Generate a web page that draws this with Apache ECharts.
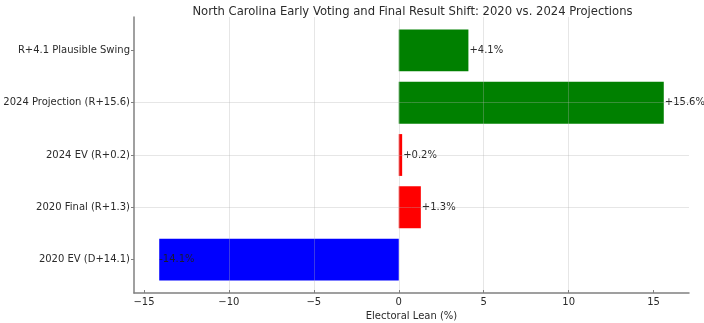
<!DOCTYPE html>
<html>
<head>
<meta charset="utf-8">
<script src="https://cdn.jsdelivr.net/npm/echarts@6/dist/echarts.min.js"></script>
<style>html,body{margin:0;padding:0;background:#fff}#c{width:704px;height:323px}</style>
</head>
<body>
<div id="c"></div>
<script>
const categories = ['2020 EV (D+14.1)', '2020 Final (R+1.3)', '2024 EV (R+0.2)', '2024 Projection (R+15.6)', 'R+4.1 Plausible Swing'];
const values = [-14.1, 1.3, 0.2, 15.6, 4.1];
const labels = ['-14.1%', '+1.3%', '+0.2%', '+15.6%', '+4.1%'];
const barColors = ['#0000ff', '#ff0000', '#ff0000', '#008000', '#008000'];
const xTicks = [-15, -10, -5, 0, 5, 10, 15];
const xMin = -15.585, xMax = 17.085;
const yMin = -0.64, yMax = 4.64;

const font = 'DejaVu Sans';
const txt = '#2b2b2b';
const chart = echarts.init(document.getElementById('c'));
const gridColor = 'rgba(176,176,176,0.32)';
const catIdx = categories.map((_, i) => i);

chart.setOption({
  animation: false,
  title: {
    text: 'North Carolina Early Voting and Final Result Shift: 2020 vs. 2024 Projections',
    left: 407.5, textAlign: 'center', top: 1,
    textStyle: { fontFamily: font, fontSize: 11.6, fontWeight: 'normal', color: txt }
  },
  grid: [
    { left: 134, right: 15, top: 17, bottom: 30, outerBoundsMode: 'none', containLabel: false },
    { left: 134, right: 15, top: 24.3, bottom: 37.3, outerBoundsMode: 'none', containLabel: false }
  ],
  xAxis: [
    {
      gridIndex: 0, type: 'value', min: xMin, max: xMax, z: 5,
      name: 'Electoral Lean (%)', nameLocation: 'middle', nameGap: 17,
      nameTextStyle: { fontFamily: font, fontSize: 10, color: txt },
      axisLine: { show: true, onZero: false, lineStyle: { color: '#808080', width: 1.5 } },
      axisTick: { show: true, inside: true, length: 3, customValues: xTicks, lineStyle: { color: '#808080' } },
      axisLabel: { customValues: xTicks, fontFamily: font, fontSize: 10, color: txt, margin: 4,
        formatter: v => (v < 0 ? '\u2212' + Math.abs(v) : String(v)) },
      splitLine: { show: true, showMinLine: false, showMaxLine: false, lineStyle: { color: gridColor, width: 1 } }
    },
    {
      gridIndex: 1, type: 'value', min: xMin, max: xMax,
      axisLine: { show: false, onZero: false }, axisTick: { show: false }, axisLabel: { show: false }, splitLine: { show: false }
    }
  ],
  yAxis: [
    {
      gridIndex: 0, type: 'value', min: yMin, max: yMax, z: 5,
      axisLine: { show: true, onZero: false, lineStyle: { color: '#808080', width: 1.5 } },
      axisTick: { show: true, inside: false, length: 3, customValues: catIdx, lineStyle: { color: '#808080' } },
      axisLabel: { customValues: catIdx, fontFamily: font, fontSize: 10, color: txt, margin: 4,
        formatter: v => categories[Math.round(v)] },
      splitLine: { show: true, showMinLine: false, showMaxLine: false, lineStyle: { color: gridColor, width: 1 } }
    },
    {
      gridIndex: 1, type: 'category', data: categories,
      axisLine: { show: false, onZero: false }, axisTick: { show: false }, axisLabel: { show: false }, splitLine: { show: false }
    }
  ],
  series: [{
    type: 'bar', xAxisIndex: 1, yAxisIndex: 1, barWidth: '80%',
    data: values.map((v, i) => ({
      value: v,
      itemStyle: { color: barColors[i] },
      label: {
        show: true, formatter: labels[i],
        position: v < 0 ? 'insideLeft' : 'right', distance: v < 0 ? 0 : 1,
        fontFamily: font, fontSize: 10, color: v < 0 ? '#1a1a33' : txt
      }
    }))
  }]
});
</script>
</body>
</html>
